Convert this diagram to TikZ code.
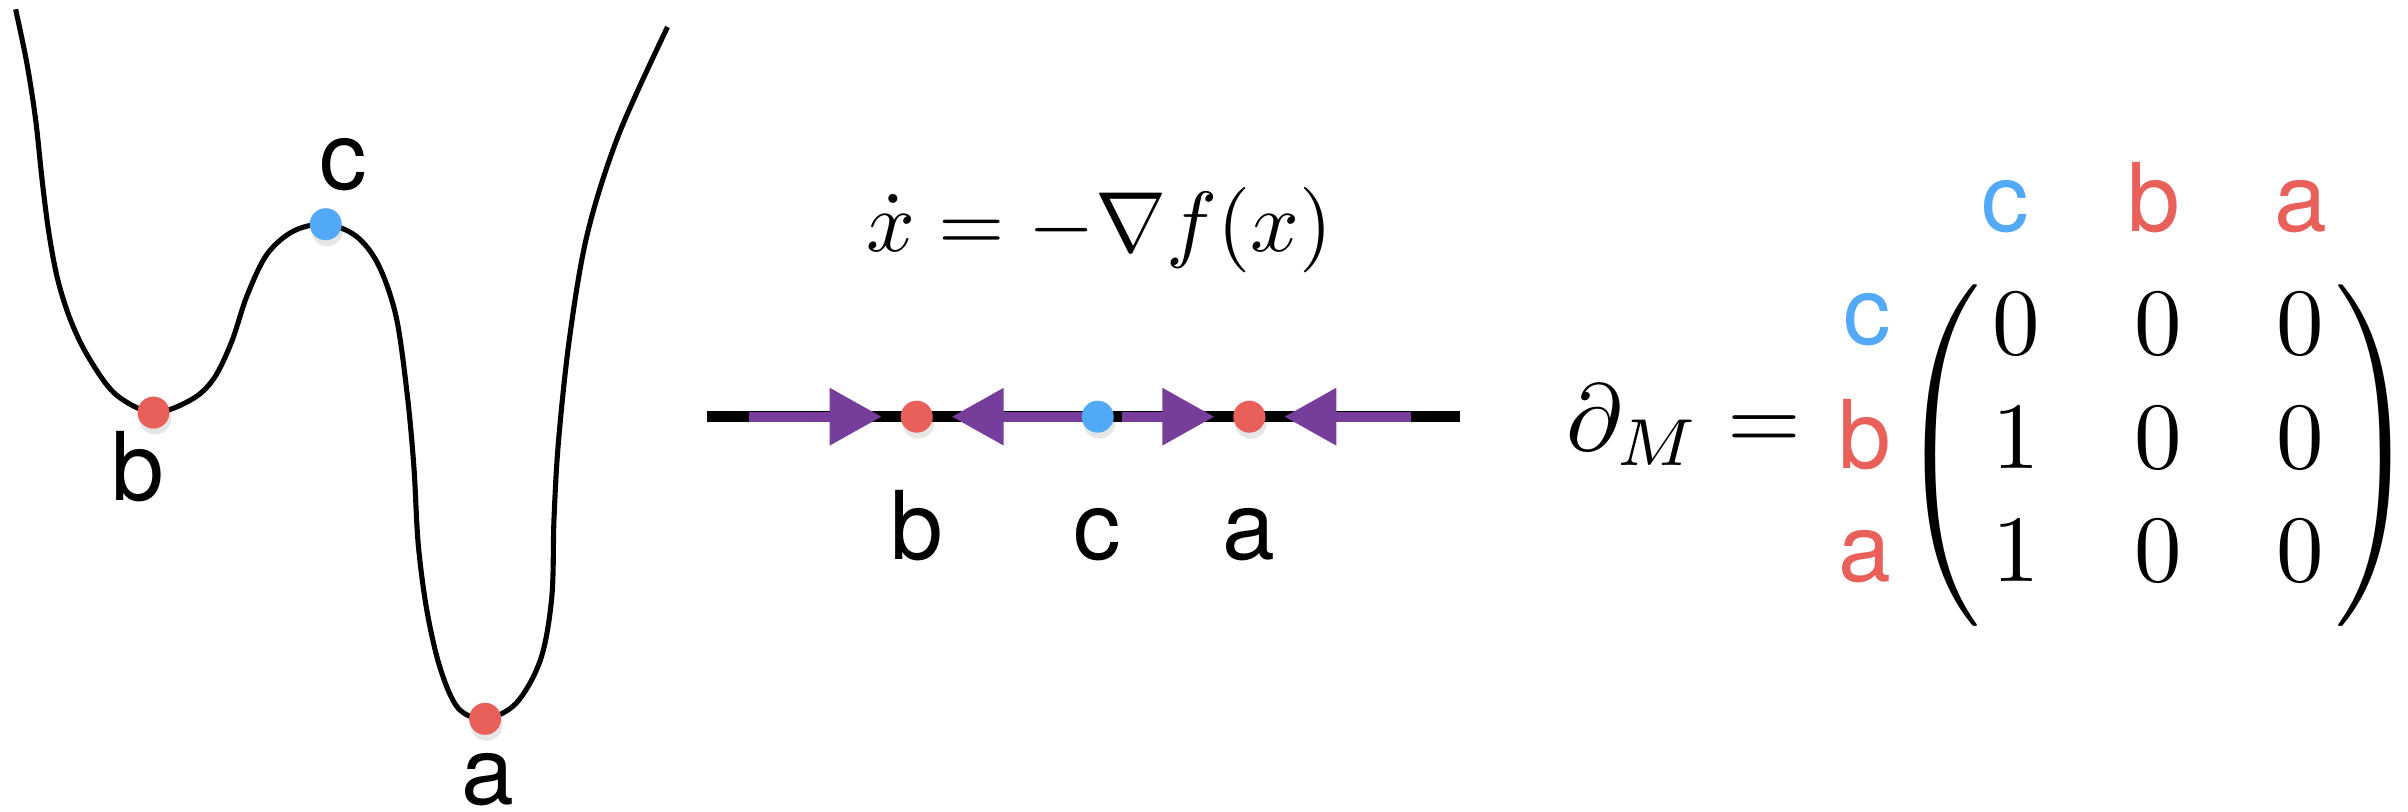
\documentclass[tikz,border=0pt]{standalone}
\usepackage{amsmath}
\usepackage[no-math]{fontspec}
\setsansfont{TeX Gyre Heros}
\usepackage{tikz}
\usetikzlibrary{
  arrows.meta,
  positioning,
  matrix,
  shadows,
  backgrounds
}
\definecolor{ptRed}{HTML}{E9605A}
\definecolor{ptBlue}{HTML}{52A9F7}
\definecolor{ptFlow}{HTML}{773D9B}
\newcommand{\threerows}{\vphantom{\begin{matrix}0\\0\\0\end{matrix}}}
\tikzset{
  potential/.style={line width=1.45pt, line join=round},
  crit/.style={
    circle, inner sep=0pt, outer sep=0pt, minimum size=3.2mm,
    drop shadow={shadow xshift=0.15mm, shadow yshift=-0.6mm, opacity=0.2}
  },
  minpt/.style={crit, fill=ptRed},
  saddle/.style={crit, fill=ptBlue},
  ptlabel/.style={font=\fontsize{27}{32}\selectfont\sffamily, inner sep=0pt, outer sep=0pt},
  bigmath/.style={scale=2.7, inner sep=0pt, outer sep=0pt},
  eqmath/.style={scale=2.43, inner sep=0pt, outer sep=0pt},
  axisline/.style={line width=3pt},
  flow/.style={-{Triangle[length=5.2mm, width=5.5mm]}, line width=2.8pt, ptFlow, shorten >=1.9mm}
}

\begin{document}
\begin{tikzpicture}
  \useasboundingbox (0,0) rectangle (24.08,8.12);

  \draw[potential] plot[smooth, tension=0.55] coordinates {
    (0.156,8.027) (0.267,7.497) (0.356,6.926) (0.423,6.303) (0.490,5.784)
    (0.579,5.317) (0.712,4.902) (0.890,4.539) (1.157,4.176) (1.535,3.994)
    (1.914,4.124) (2.136,4.331) (2.314,4.695) (2.470,5.162) (2.670,5.577)
    (2.937,5.810) (3.257,5.878) (3.560,5.759) (3.783,5.473) (3.961,4.954)
    (4.072,4.176) (4.139,3.449) (4.183,2.670) (4.272,1.996) (4.406,1.425)
    (4.584,1.036) (4.851,0.932) (5.162,1.088) (5.407,1.529) (5.518,2.151)
    (5.540,2.930) (5.585,3.708) (5.696,4.746) (5.874,5.784) (6.186,6.771)
    (6.675,7.850)};
  \node[minpt] (pb) at (1.535,3.994) {};
  \node[saddle] (pc) at (3.257,5.878) {};
  \node[minpt] (pa) at (4.851,0.932) {};
  \node[ptlabel, anchor=base] (pbl) at ([xshift=-1.55mm, yshift=-8.8mm]pb) {b};
  \node[ptlabel, anchor=base] (pcl) at ([xshift=1.8mm, yshift=3.5mm]pc) {c};
  \node[ptlabel, anchor=base] (pal) at ([xshift=0.3mm, yshift=-8.6mm]pa) {a};

  \node[eqmath, anchor=base] (ode) at (10.995,5.603) {$\dot x = -\nabla f(x)$};
  \coordinate (axL) at (7.065,3.953);
  \coordinate (axR) at (14.60,3.953);
  \coordinate (inL) at (7.49,3.953);
  \coordinate (inR) at (14.11,3.953);
  \node[minpt] (xb) at (9.167,3.953) {};
  \node[saddle] (xc) at (10.977,3.953) {};
  \node[minpt] (xa) at (12.493,3.953) {};
  \node[ptlabel, anchor=base] (xbl) at ([yshift=-14.3mm]xb) {b};
  \node[ptlabel, anchor=base] (xcl) at ([yshift=-14.3mm]xc) {c};
  \node[ptlabel, anchor=base] (xal) at ([yshift=-14.3mm]xa) {a};
  \begin{scope}[on background layer]
    \draw[axisline] (axL) -- (axR);
    \draw[flow] (inL) -- (xb);
    \draw[flow] (xc) -- (xb);
    \draw[flow, shorten <=0.8mm] (xc) -- (xa);
    \draw[flow] (inR) -- (xa);
  \end{scope}

  \matrix (dM) [matrix of math nodes, inner sep=0pt, column sep=27pt, row sep=15pt,
    nodes={bigmath}] at (21.583,3.745) {
    0 & 0 & 0 \\
    1 & 0 & 0 \\
    1 & 0 & 0 \\
  };
  \node[bigmath, left=0pt of dM-2-1, yshift=-0.68mm] (lpar) {${\nulldelimiterspace=0pt\left(\threerows\right.}$};
  \node[bigmath, right=0pt of dM-2-3, yshift=-0.68mm] (rpar) {${\nulldelimiterspace=0pt\left.\threerows\right)}$};
  \node[bigmath, anchor=base east] (lhs) at (18.01,3.61) {$\partial_M =$};
  \node[ptlabel, text=ptBlue, base left=10.1mm of dM-1-1, yshift=1mm] (rc) {c};
  \node[ptlabel, text=ptRed, base left=10.1mm of dM-2-1] (rb) {b};
  \node[ptlabel, text=ptRed, base left=10.1mm of dM-3-1] (ra) {a};
  \node[ptlabel, text=ptBlue, above=6mm of dM-1-1, xshift=-1.1mm] (cc) {c};
  \node[ptlabel, text=ptRed, above=6mm of dM-1-2, xshift=-0.4mm] (cb) {b};
  \node[ptlabel, text=ptRed, above=6mm of dM-1-3] (ca) {a};
\end{tikzpicture}
\end{document}
